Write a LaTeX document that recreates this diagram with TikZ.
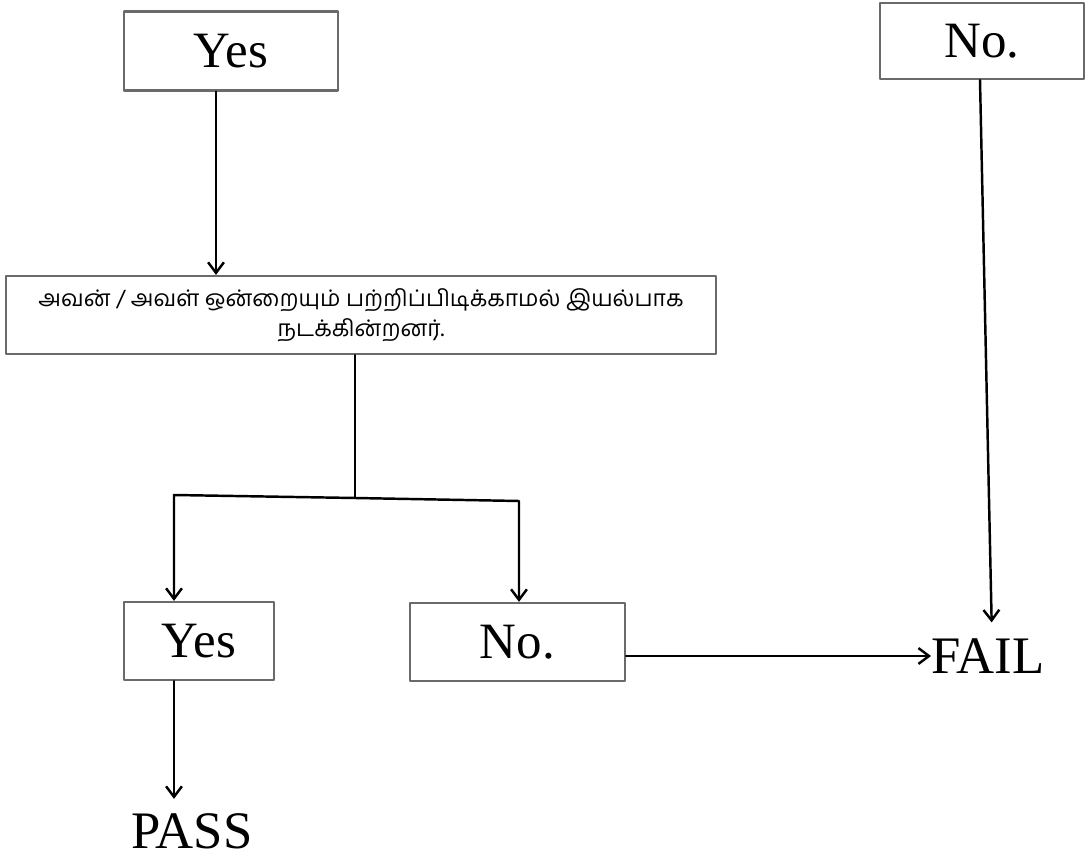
\documentclass[tikz,border=0pt]{standalone}
\usepackage{fontspec}
\usepackage{tikz}
\usetikzlibrary{arrows.meta}
\setmainfont{Liberation Serif}
\newfontfamily\tamilfont[Script=Tamil]{Hind Madurai}
\definecolor{boxgray}{HTML}{6A6A6A}

\begin{document}
\begin{tikzpicture}[x=0.02cm, y=-0.02cm, line cap=round, line join=round, >={Straight Barb[length=6pt,width=9pt]},
		box/.style={draw=boxgray, line width=1.3pt, inner sep=0pt, font=\fontsize{29}{34}\selectfont},
		word/.style={inner sep=0pt, font=\fontsize{30}{36}\selectfont},
		link/.style={line width=1.4pt}]
			\useasboundingbox (0,0) rectangle (1086,861);
			\node [box, minimum width=4.28cm, minimum height=1.58cm] (yestop) at (231,51) {Yes};
			\node [box, minimum width=4.08cm, minimum height=1.52cm] (notop) at (982,41) {No.};
			\node [box, minimum width=14.2cm, minimum height=1.56cm, align=center,
				font=\tamilfont\fontsize{13}{17}\selectfont] (walk) at (361,315)
				{அவன் / அவள் ஒன்றையும் பற்றிப்பிடிக்காமல் இயல்பாக\\நடக்கின்றனர்.};
			\node [box, minimum width=3cm, minimum height=1.56cm] (yesbot) at (199,641) {Yes};
			\node [box, minimum width=4.3cm, minimum height=1.56cm] (nobot) at (517.5,642) {No.};
			\node [word] (pass) at (192,831) {PASS};
			\node [word] (fail) at (988,656) {FAIL};
			\coordinate (split) at (355,498);
			\coordinate (cornerL) at (174,495);
			\coordinate (cornerR) at (519,501);
			\draw [link, ->] ([xshift=-0.3cm]yestop.south) -- ([xshift=-0.3cm]yestop.south |- walk.north);
			\draw [link] (walk.south -| split) -- (split);
			\draw [link, ->] (split) -- (cornerL) -- (cornerL |- yesbot.north);
			\draw [link, ->] (split) -- (cornerR) -- (cornerR |- nobot.north);
			\draw [link, ->, shorten >=8pt] ([xshift=-0.5cm]yesbot.south) -- ([xshift=-0.5cm]yesbot.south |- pass.north);
			\draw [link, ->, shorten >=9pt] ([xshift=-0.04cm]notop.south) -- ([xshift=0.08cm]fail.north);
			\draw [link, ->] (nobot.east |- fail.west) -- (fail.west);
		\end{tikzpicture}
\end{document}
